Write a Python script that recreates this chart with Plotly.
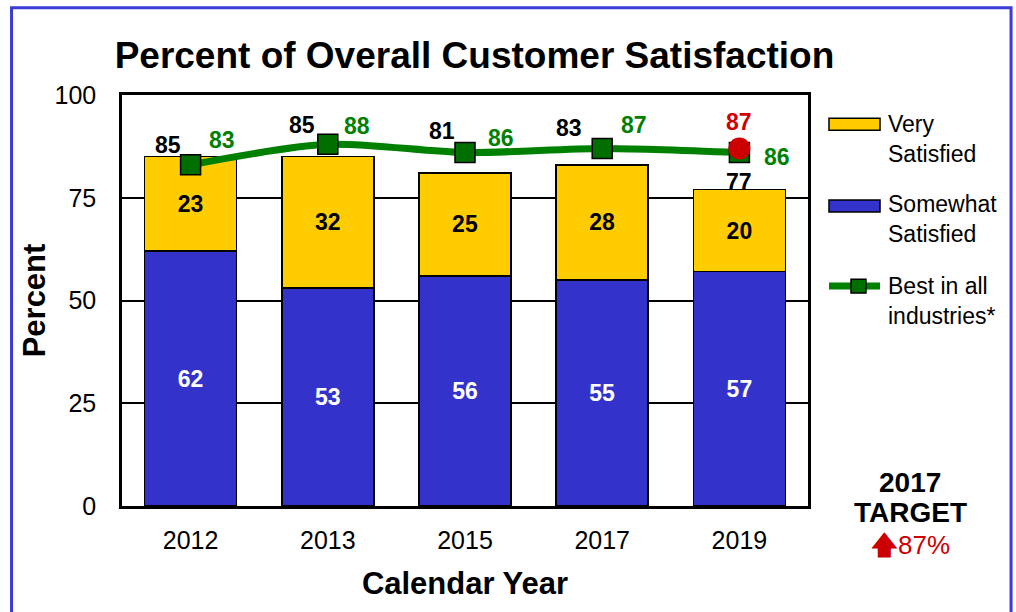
import plotly.graph_objects as go

years = ["2012", "2013", "2015", "2017", "2019"]
somewhat = [62, 53, 56, 55, 57]
very = [23, 32, 25, 28, 20]
totals = [85, 85, 81, 83, 77]
best = [83, 88, 86, 87, 86]
target_year = "2019"
target_value = 87

# label offsets (pixels) for total and best labels
total_dx = [-23, -26, -23, -33, 0]
total_dy = [12, 32, 42, 37, 8]
best_dx = [31, 29, 36, 32, 38]
best_dy = [25, 18, 15, 23, -4]

BLUE = "#3333CC"
YELLOW = "#FFCC00"
GREEN = "#008000"
DKGREEN = "#006F00"
RED = "#CC0000"
FONT = "Liberation Sans, Arial, sans-serif"

fig = go.Figure()
fig.add_trace(go.Bar(
    x=years, y=somewhat, name="Somewhat Satisfied",
    marker=dict(color=BLUE, line=dict(color="black", width=1.5)),
    text=[str(v) for v in somewhat], textposition="inside", insidetextanchor="middle",
    textfont=dict(color="white", size=23, family=FONT, weight="bold"),
    width=0.67, showlegend=False, hoverinfo="skip"))
fig.add_trace(go.Bar(
    x=years, y=very, name="Very Satisfied",
    marker=dict(color=YELLOW, line=dict(color="black", width=1.5)),
    text=[str(v) for v in very], textposition="inside", insidetextanchor="middle",
    textfont=dict(color="black", size=23, family=FONT, weight="bold"),
    width=0.67, showlegend=False, hoverinfo="skip"))
fig.add_trace(go.Scatter(
    x=years, y=best, mode="lines+markers", name="Best in all industries*",
    line=dict(color=GREEN, width=7, shape="spline", smoothing=0.8),
    marker=dict(symbol="square", size=20, color=DKGREEN, line=dict(color="black", width=1.5)),
    showlegend=False, hoverinfo="skip"))
fig.add_trace(go.Scatter(
    x=[target_year], y=[target_value], mode="markers", name="Target",
    marker=dict(symbol="circle", size=22, color=RED),
    showlegend=False, hoverinfo="skip"))

# annotations use the category serial number (index) on the category axis
for i, yr in enumerate(years):
    fig.add_annotation(x=i, y=totals[i], text=f"<b>{totals[i]}</b>", showarrow=False,
                       xshift=total_dx[i], yshift=total_dy[i],
                       font=dict(size=23, color="black", family=FONT))
    fig.add_annotation(x=i, y=best[i], text=f"<b>{best[i]}</b>", showarrow=False,
                       xshift=best_dx[i], yshift=best_dy[i],
                       font=dict(size=23, color=GREEN, family=FONT))
fig.add_annotation(x=years.index(target_year), y=target_value, text=f"<b>{target_value}</b>",
                   showarrow=False, yshift=26, font=dict(size=23, color=RED, family=FONT))

# outer frame
fig.add_shape(type="rect", xref="paper", yref="paper", x0=-0.161, x1=1.296, y0=-0.3, y1=1.212,
              line=dict(color="#3B3BD6", width=3), fillcolor="rgba(0,0,0,0)", layer="below")

# manual legend
leg_items = [("Very<br>Satisfied", YELLOW, "bar"), ("Somewhat<br>Satisfied", BLUE, "bar"),
             ("Best in all<br>industries*", GREEN, "line")]
sw_y = [0.929, 0.730, 0.535]
txt_y = [0.894, 0.698, 0.4976]
for (label, col, kind), yy, ty in zip(leg_items, sw_y, txt_y):
    if kind == "bar":
        fig.add_shape(type="rect", xref="paper", yref="paper", x0=1.0306, x1=1.105,
                      y0=yy - 0.0146, y1=yy + 0.0146, fillcolor=col, line=dict(color="black", width=1.5))
    else:
        fig.add_shape(type="line", xref="paper", yref="paper", x0=1.0306, x1=1.105, y0=yy, y1=yy,
                      line=dict(color=GREEN, width=7))
        fig.add_shape(type="rect", xref="paper", yref="paper", x0=1.0627, x1=1.0845,
                      y0=yy - 0.017, y1=yy + 0.017, fillcolor=DKGREEN, line=dict(color="black", width=1.5))
    fig.add_annotation(xref="paper", yref="paper", x=1.1137, y=ty, text=label, showarrow=False,
                       xanchor="left", yanchor="middle", align="left",
                       font=dict(size=23, color="black", family=FONT))

fig.add_annotation(xref="paper", yref="paper", x=1.1487, y=0.056, text="<b>2017</b>", showarrow=False,
                   xanchor="center", yanchor="middle", font=dict(size=28, color="black", family=FONT))
fig.add_annotation(xref="paper", yref="paper", x=1.1487, y=-0.0146, text="<b>TARGET</b>", showarrow=False,
                   xanchor="center", yanchor="middle", font=dict(size=28, color="black", family=FONT))
fig.add_annotation(xref="paper", yref="paper", x=1.1487, y=-0.095, text="<b>🡅</b>87%", showarrow=False,
                   xanchor="center", yanchor="middle", font=dict(size=26, color=RED, family=FONT))

fig.update_layout(
    barmode="stack",
    width=1016, height=612,
    margin=dict(l=122, r=208, t=95, b=106),
    paper_bgcolor="white", plot_bgcolor="white",
    title=dict(text="<b>Percent of Overall Customer Satisfaction</b>", x=0.467, xanchor="center",
               y=0.91, yanchor="middle", font=dict(size=37, color="black", family=FONT)),
    font=dict(family=FONT, color="black"),
    xaxis=dict(type="category", categoryorder="array", categoryarray=years,
               range=[-0.5, len(years) - 0.5], autorange=False,
               title=dict(text="<b>Calendar Year</b>", font=dict(size=31), standoff=20),
               tickfont=dict(size=25), showline=True, linecolor="black", linewidth=2.5, mirror=True,
               ticks="", showgrid=False, ticklabelstandoff=10),
    yaxis=dict(title=dict(text="<b>Percent</b>", font=dict(size=31), standoff=0),
               range=[0, 100], autorange=False, tickvals=[0, 25, 50, 75, 100], tickfont=dict(size=25),
               showline=True, linecolor="black", linewidth=2.5, mirror=True,
               showgrid=True, gridcolor="black", gridwidth=2, zeroline=False, ticks="",
               ticklabelstandoff=18),
    bargap=0.33,
)

fig.write_html("out.html", config={"displayModeBar": False},
               post_script="document.body.style.margin='0';document.body.style.overflow='hidden';")
